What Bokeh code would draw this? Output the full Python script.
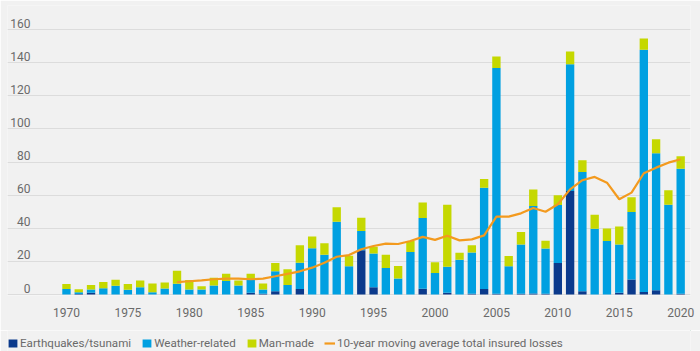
from bokeh.plotting import figure
from bokeh.layouts import column
from bokeh.models import ColumnDataSource, Legend, LegendItem, FixedTicker, Range1d
from bokeh.core.properties import value
from bokeh.embed import file_html
from bokeh.resources import INLINE

# ---- data (USD bn) ----
years = list(range(1970, 2021))
quake = [0, 0.3, 1.0, 0, 0, 0, 0, 0, 0, 0,
         0, 0, 0, 0, 0, 1.0, 0.5, 2.0, 0, 3.4,
         0, 0, 0, 0, 26.7, 4.4, 0, 0, 0, 3.5,
         0, 1.0, 0, 0.4, 3.4, 0.5, 0, 0.5, 0.6, 0.5,
         19.0, 62.5, 2.0, 0, 0, 1.0, 9.0, 1.5, 2.6, 0, 0.5]
weather = [3.4, 1.0, 2.0, 3.8, 5.3, 2.8, 4.4, 1.4, 3.6, 6.5,
           3.0, 3.0, 5.5, 8.1, 5.5, 8.0, 2.5, 12.0, 5.7, 15.8,
           28.0, 24.0, 44.0, 17.0, 11.7, 20.4, 16.0, 9.7, 25.7, 42.7,
           13.0, 15.7, 21.0, 25.0, 61.0, 136.2, 17.0, 29.7, 52.8, 27.3,
           35.0, 76.5, 72.0, 39.7, 32.3, 29.2, 40.8, 146.3, 82.7, 54.2, 75.5]
manmade = [2.9, 1.8, 2.7, 3.7, 3.6, 3.5, 4.1, 5.3, 3.7, 7.8,
           5.7, 2.0, 4.6, 4.4, 3.0, 3.6, 3.7, 5.0, 9.5, 10.5,
           7.0, 7.0, 8.7, 6.4, 8.0, 4.0, 8.0, 7.5, 6.6, 9.3,
           6.5, 37.5, 4.2, 4.4, 5.3, 7.0, 6.3, 7.5, 10.0, 4.7,
           6.0, 7.8, 7.0, 8.5, 7.6, 10.8, 8.9, 6.8, 8.5, 8.7, 7.5]
avg_years = list(range(1979, 2021))
avg_losses = [7.5, 8.0, 8.5, 9.2, 9.6, 9.6, 9.2, 9.6, 11.0, 12.5,
              14.0, 16.2, 19.2, 22.8, 23.8, 27.3, 29.3, 30.7, 30.5, 32.3,
              34.8, 33.0, 35.5, 32.7, 33.3, 35.7, 47.0, 47.0, 49.0, 52.2,
              50.0, 54.5, 63.5, 69.0, 71.0, 67.5, 57.5, 61.5, 73.2, 76.6,
              79.6, 81.7]
x_ticks = [1970, 1975, 1980, 1985, 1990, 1995, 2000, 2005, 2010, 2015, 2020]
y_ticks = [0, 20, 40, 60, 80, 100, 120, 140, 160]
series_names = ["Earthquakes/tsunami", "Weather-related", "Man-made"]
line_name = "10-year moving average total insured losses"

# ---- style ----
BG = "#f1f1f1"
COLORS = ["#0b3a8c", "#00a0e1", "#c5d800"]
ORANGE = "#f39a1e"
TEXT = "#6a6a6a"
FONT = "Roboto"

src = ColumnDataSource(dict(year=years, quake=quake, weather=weather, manmade=manmade))
avg_src = ColumnDataSource(dict(year=avg_years, avg=avg_losses))

p = figure(width=700, height=330, output_backend="svg", toolbar_location=None,
           x_range=Range1d(1965.2, 2020.8), y_range=Range1d(-0.6, 174.5),
           background_fill_color=BG, border_fill_color=BG, outline_line_color=None,
           min_border_left=7, min_border_right=10, min_border_top=5, min_border_bottom=35)

bars = p.vbar_stack(["quake", "weather", "manmade"], x="year", width=0.68, source=src,
                    color=COLORS, line_color=None)
p.line(x="year", y="avg", source=avg_src, line_color=ORANGE, line_width=2.2)

# grid
p.xgrid.visible = False
p.ygrid.ticker = FixedTicker(ticks=y_ticks)
p.ygrid.grid_line_color = "#dcdcdc"
p.ygrid.grid_line_width = 1

# y tick labels drawn above gridlines, inside the plot
p.yaxis.visible = False
label_x = p.x_range.start + 1.87
p.text(x=[label_x] * len(y_ticks), y=y_ticks, text=[str(v) for v in y_ticks],
       text_align="right", text_baseline="bottom", y_offset=-2,
       text_font=value(FONT), text_font_size="12px", text_color=TEXT)

# x axis
p.xaxis.ticker = FixedTicker(ticks=x_ticks)
p.xaxis.axis_line_color = None
p.xaxis.major_tick_line_color = None
p.xaxis.minor_tick_line_color = None
p.xaxis.major_label_text_font = FONT
p.xaxis.major_label_text_font_size = "12px"
p.xaxis.major_label_text_color = TEXT
p.xaxis.major_label_standoff = 6

# ---- legend strip (separate small figure below the chart) ----
lg = figure(width=700, height=21, output_backend="svg", toolbar_location=None,
            x_range=Range1d(0, 1), y_range=Range1d(0, 1),
            background_fill_color=BG, border_fill_color=BG, outline_line_color=None,
            min_border_left=7, min_border_right=0, min_border_top=0, min_border_bottom=0)
lg.axis.visible = False
lg.grid.visible = False
# key renderers sit outside the strip's visible range; only their legend swatches show
key_bars = [lg.vbar(x=[5], top=[5], bottom=[4], width=0.1, color=c, line_color=None) for c in COLORS]
key_line = lg.line(x=[5, 6], y=[5, 5], line_color=ORANGE, line_width=2.2)

legend = Legend(items=[LegendItem(label=series_names[i], renderers=[key_bars[i]]) for i in range(3)]
                + [LegendItem(label=line_name, renderers=[key_line])],
                orientation="horizontal", location=(0, 1),
                border_line_color=None, background_fill_alpha=0,
                label_text_font=FONT, label_text_font_size="11.6px", label_text_color=TEXT,
                glyph_width=11, glyph_height=10, label_standoff=2, spacing=10,
                label_height=14, padding=0, margin=0)
lg.add_layout(legend)

layout = column(p, lg, spacing=0)
open("out.html", "w").write(file_html(layout, INLINE))
